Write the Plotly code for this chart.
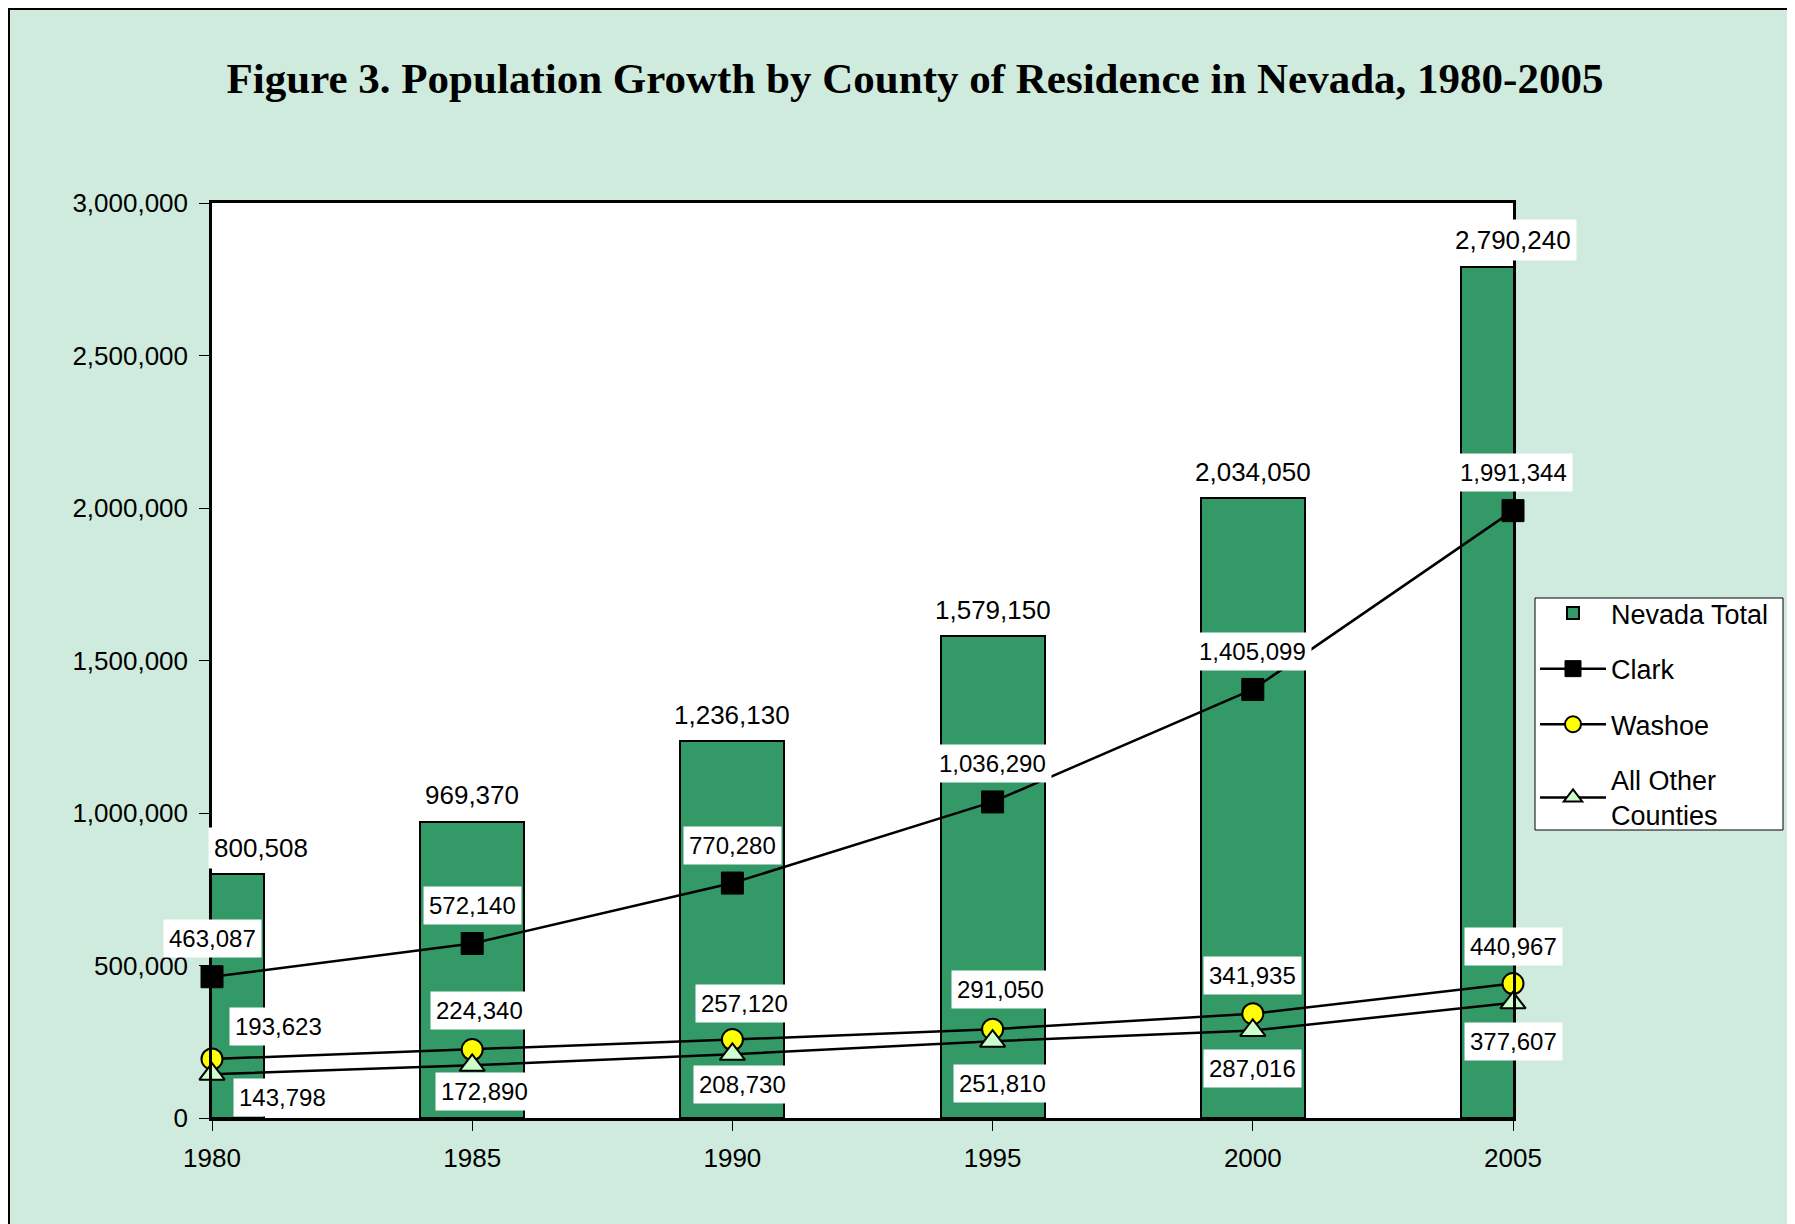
import plotly.graph_objects as go

years = [1980, 1985, 1990, 1995, 2000, 2005]
nevada_total = [800508, 969370, 1236130, 1579150, 2034050, 2790240]
clark = [463087, 572140, 770280, 1036290, 1405099, 1991344]
washoe = [193623, 224340, 257120, 291050, 341935, 440967]
other = [143798, 172890, 208730, 251810, 287016, 377607]
y_ticks = [0, 500000, 1000000, 1500000, 2000000, 2500000, 3000000]

# label offsets (pixels) - styling only
nev_dx = [49, 0, 0, 0, 0, 0]
nev_dy = [26, 27, 26, 26, 26, 27]
clark_dx = [0, 0, 0, 0, 0, 0]
clark_dy = [38, 38, 38, 38, 38, 38]
wash_dx = [66, 7, 12, 8, 0, 0]
wash_dy = [32, 39, 36, 40, 38, 37]
oth_dx = [70, 12, 10, 10, 0, 0]
oth_dy = [-23, -26, -30, -42, -38, -39]

PAPER = "#CFEBDD"
BAR = "#339966"
FONT = "Liberation Sans, Arial, sans-serif"

# the page body adds an 8px offset; margins compensate for it
OFF = 8
W, H = 1795, 1224
ML, MT = 212 - OFF, 203 - OFF
PW, PH = 1301, 915
MR = W - ML - PW
MB = H - MT - PH

def px_x(px):
    return (px - OFF - ML) / PW

def px_y(py):
    return (H - MB - (py - OFF)) / PH

fig = go.Figure()
fig.add_trace(go.Bar(
    x=years, y=nevada_total, width=2.0, name="Nevada Total",
    marker=dict(color=BAR, line=dict(color="black", width=2)),
    legendgroup="a",
))
fig.add_trace(go.Scatter(
    x=years, y=clark, name="Clark", mode="lines+markers", cliponaxis=False,
    line=dict(color="black", width=2.5),
    marker=dict(symbol="square", size=22, color="black", line=dict(color="black", width=1)),
    legendgroup="b",
))
fig.add_trace(go.Scatter(
    x=years, y=washoe, name="Washoe", mode="lines+markers", cliponaxis=False,
    line=dict(color="black", width=2.5),
    marker=dict(symbol="circle", size=21, color="#FFFF00", line=dict(color="black", width=2)),
    legendgroup="c",
))
fig.add_trace(go.Scatter(
    x=years, y=other, name="All Other<br>Counties", mode="lines+markers", cliponaxis=False,
    line=dict(color="black", width=2.5),
    marker=dict(symbol="triangle-up", size=22, color="#CCFFCC", line=dict(color="black", width=2)),
    legendgroup="d",
))

annotations = []
def add_labels(vals, dxs, dys, size):
    for x, v, dx, dy in zip(years, vals, dxs, dys):
        annotations.append(dict(
            x=x, y=v, xref="x", yref="y", text=f"{v:,}", showarrow=False,
            xshift=dx, yshift=dy, bgcolor="white", borderpad=5,
            font=dict(family=FONT, size=size, color="black"),
        ))

add_labels(nevada_total, nev_dx, nev_dy, 26)
add_labels(clark, clark_dx, clark_dy, 24)
add_labels(washoe, wash_dx, wash_dy, 24)
add_labels(other, oth_dx, oth_dy, 24)

fig.update_layout(
    width=W, height=H,
    margin=dict(l=ML, r=MR, t=MT, b=MB, pad=0),
    paper_bgcolor=PAPER, plot_bgcolor="white",
    font=dict(family=FONT, size=26, color="black"),
    title=dict(
        text="<b>Figure 3. Population Growth by County of Residence in Nevada, 1980-2005</b>",
        font=dict(family="Liberation Serif, Times New Roman, serif", size=43, color="black"),
        x=(915 - OFF) / W, xanchor="center", xref="container",
        y=1 - 70 / H, yanchor="middle", yref="container",
    ),
    showlegend=True,
    legend=dict(
        x=px_x(1535), y=px_y(589), xanchor="left", yanchor="top",
        bgcolor="rgba(0,0,0,0)", borderwidth=0,
        font=dict(family=FONT, size=27, color="black"),
        traceorder="grouped", tracegroupgap=17.5, itemwidth=66,
    ),
    annotations=annotations,
    xaxis=dict(
        range=[1980, 2005], tickvals=years, ticktext=[str(y) for y in years],
        showgrid=False, zeroline=False,
        showline=True, linecolor="black", linewidth=3, mirror=True,
        ticks="outside", ticklen=10, tickwidth=1, tickcolor="black",
        ticklabelstandoff=5,
        tickfont=dict(family=FONT, size=26, color="black"),
    ),
    yaxis=dict(
        range=[0, 3000000], tickvals=y_ticks, tickformat=",d",
        showgrid=False, zeroline=False,
        showline=True, linecolor="black", linewidth=2.5, mirror=True,
        ticks="outside", ticklen=10, tickwidth=1, tickcolor="black",
        ticklabelstandoff=6,
        tickfont=dict(family=FONT, size=26, color="black"),
    ),
    bargap=0,
    shapes=[
        dict(
            type="rect", xref="paper", yref="paper",
            x0=px_x(1535), x1=px_x(1783), y0=px_y(830), y1=px_y(598),
            line=dict(color="black", width=1), fillcolor="white", layer="below",
        ),
        dict(
            type="rect", xref="paper", yref="paper",
            x0=(0.5 - ML) / PW, x1=1.6, y0=-0.6, y1=(H - MB - 0.5) / PH,
            line=dict(color="black", width=3), fillcolor="rgba(0,0,0,0)", layer="above",
        ),
    ],
)

fig.write_html("out.html")
